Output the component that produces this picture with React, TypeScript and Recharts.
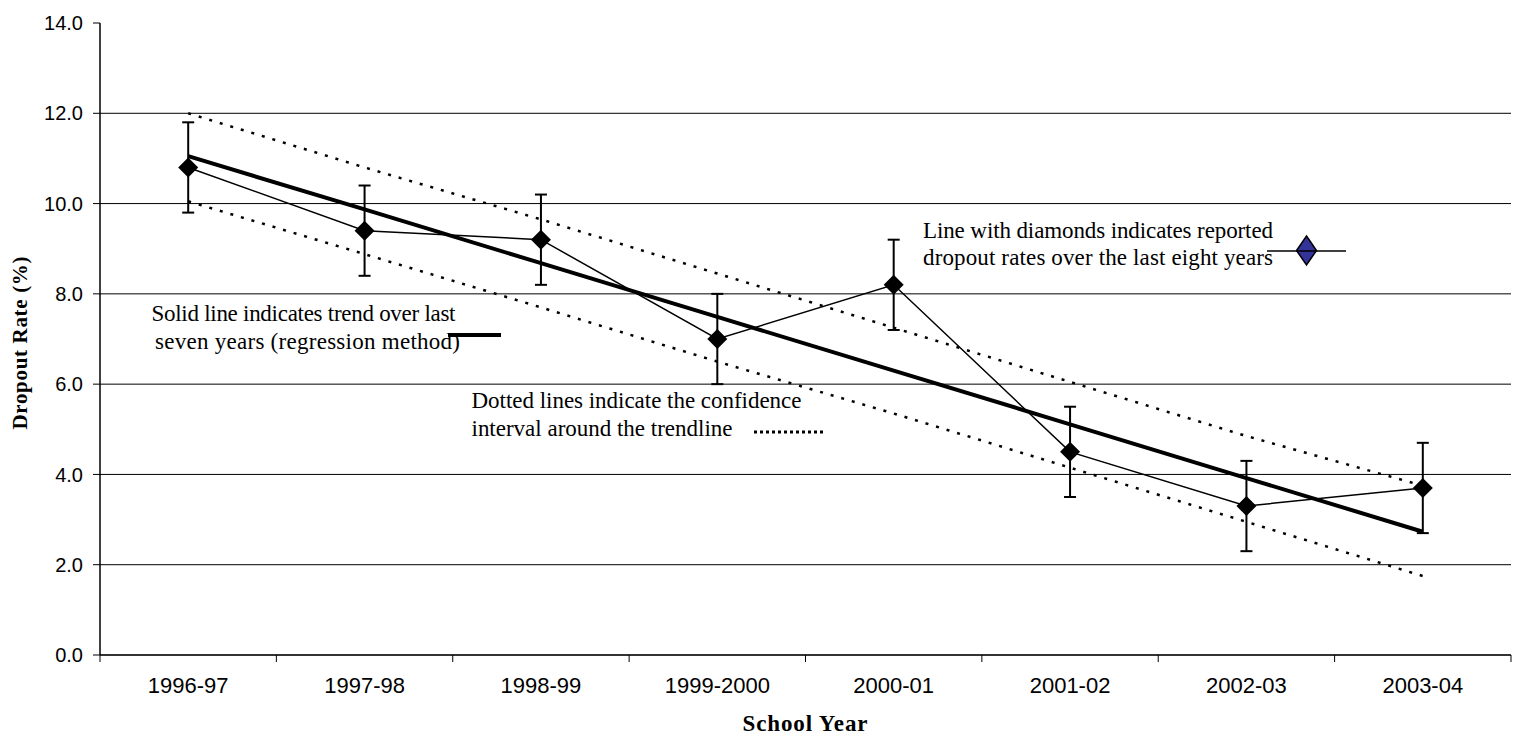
import React from 'react'
import { LineChart, Line, XAxis, YAxis, CartesianGrid, ErrorBar } from 'recharts'

const YEARS = ['1996-97', '1997-98', '1998-99', '1999-2000', '2000-01', '2001-02', '2002-03', '2003-04']
const REPORTED = [10.8, 9.4, 9.2, 7.0, 8.2, 4.5, 3.3, 3.7]
const ERROR = [1.0, 1.0, 1.0, 1.0, 1.0, 1.0, 1.0, 1.0]
const TREND = [11.05, 9.87, 8.68, 7.49, 6.3, 5.11, 3.92, 2.73]
const UPPER = [12.0, 10.8, 9.65, 8.45, 7.25, 6.05, 4.85, 3.75]
const LOWER = [10.05, 8.88, 7.7, 6.5, 5.35, 4.15, 2.95, 1.75]
const Y_TICKS = [0, 2, 4, 6, 8, 10, 12, 14]
const GRID_VALUES = [2, 4, 6, 8, 10, 12]

const data = YEARS.map((year, i) => ({
  year,
  reported: REPORTED[i],
  err: ERROR[i],
  trend: TREND[i],
  upper: UPPER[i],
  lower: LOWER[i],
}))

const SERIF = '"Liberation Serif", "Times New Roman", serif'
const SANS = '"Liberation Sans", Arial, sans-serif'
// half of one category slot (plot is 1411px wide, 8 categories)
const HALF_SLOT = 88.2

function Diamond(props: any) {
  const { cx, cy } = props
  if (cx == null || cy == null) return null
  return (
    <polygon
      points={`${cx},${cy - 10} ${cx + 10},${cy} ${cx},${cy + 10} ${cx - 10},${cy}`}
      fill="#000"
    />
  )
}

// Excel-style category axis: tick marks sit between the categories
function YearTick(props: any) {
  const { x, y, payload } = props
  const last = payload?.value === YEARS[YEARS.length - 1]
  return (
    <g>
      <line x1={x - HALF_SLOT} y1={y} x2={x - HALF_SLOT} y2={y + 7} stroke="#000" />
      {last && <line x1={x + HALF_SLOT} y1={y} x2={x + HALF_SLOT} y2={y + 7} stroke="#000" />}
      <text x={x} y={y + 38} textAnchor="middle" fontFamily={SANS} fontSize={22} fill="#000">
        {payload.value}
      </text>
    </g>
  )
}

function Note({ x, y, width, children }: { x: number; y: number; width: number; children: string }) {
  return (
    <text
      x={x}
      y={y}
      fontFamily={SERIF}
      fontSize={23}
      fill="#000"
      textLength={width}
      lengthAdjust="spacing"
    >
      {children}
    </text>
  )
}

export default function App() {
  return (
    <div style={{ position: 'absolute', left: 0, top: 0, width: 1516, height: 736, background: '#fff' }}>
      <LineChart
        width={1516}
        height={736}
        data={data}
        margin={{ top: 23, right: 5, bottom: 0, left: 0 }}
      >
        <CartesianGrid vertical={false} stroke="#000" horizontalValues={GRID_VALUES} />
        <XAxis
          dataKey="year"
          height={81}
          padding={{ left: HALF_SLOT, right: HALF_SLOT }}
          axisLine={{ stroke: '#333', strokeWidth: 2 }}
          tickLine={false}
          tickSize={0}
          tickMargin={0}
          interval={0}
          tick={<YearTick />}
        />
        <XAxis
          xAxisId="top"
          dataKey="year"
          orientation="top"
          height={0}
          tick={false}
          tickLine={false}
          axisLine={{ stroke: '#999', strokeWidth: 2 }}
        />
        <YAxis
          domain={[0, 14]}
          ticks={Y_TICKS}
          width={100}
          interval={0}
          tickSize={7}
          tickMargin={10}
          tickFormatter={(v: number) => v.toFixed(1)}
          tick={{ fill: '#000', fontSize: 20, fontFamily: SANS }}
          axisLine={{ stroke: '#000', strokeWidth: 1.5 }}
          tickLine={{ stroke: '#000' }}
        />
        <YAxis
          yAxisId="right"
          orientation="right"
          domain={[0, 14]}
          width={0}
          tick={false}
          tickLine={false}
          axisLine={{ stroke: '#999', strokeWidth: 2 }}
        />

        <Line dataKey="upper" stroke="#000" strokeWidth={2.5} strokeDasharray="3 8" dot={false} isAnimationActive={false} />
        <Line dataKey="lower" stroke="#000" strokeWidth={2.5} strokeDasharray="3 8" dot={false} isAnimationActive={false} />
        <Line dataKey="trend" stroke="#000" strokeWidth={4} dot={false} isAnimationActive={false} />
        <Line
          dataKey="reported"
          stroke="#000"
          strokeWidth={1.5}
          dot={(p: any) => <Diamond key={`d-${p.index}`} {...p} />}
          isAnimationActive={false}
        >
          <ErrorBar dataKey="err" direction="y" width={6} stroke="#000" strokeWidth={2} />
        </Line>

        {/* annotations */}
        <Note x={151.5} y={321} width={304}>Solid line indicates trend over last</Note>
        <Note x={155} y={349} width={305}>seven years (regression method)</Note>
        <line x1={448} y1={335} x2={501} y2={335} stroke="#000" strokeWidth={4} />

        <Note x={471.5} y={408} width={330}>Dotted lines indicate the confidence</Note>
        <Note x={471.5} y={436} width={261}>interval around the trendline</Note>
        <line x1={754} y1={432} x2={823} y2={432} stroke="#000" strokeWidth={3} strokeDasharray="3 3" />

        <Note x={923} y={238} width={350}>Line with diamonds indicates reported</Note>
        <Note x={923} y={265} width={350}>dropout rates over the last eight years</Note>
        <polygon
          points="1306.5,236 1316.5,250.5 1306.5,265 1296.5,250.5"
          fill="#333399"
          stroke="#000"
          strokeWidth={1.5}
        />
        <line x1={1267} y1={251} x2={1346} y2={251} stroke="#000" strokeWidth={1.5} />

        <text
          transform="translate(27, 343) rotate(-90)"
          textAnchor="middle"
          fontFamily={SERIF}
          fontSize={21}
          fontWeight="bold"
          fill="#000"
          textLength={173}
          lengthAdjust="spacing"
        >
          Dropout Rate (%)
        </text>
        <text
          x={805}
          y={731}
          textAnchor="middle"
          fontFamily={SERIF}
          fontSize={23}
          fontWeight="bold"
          fill="#000"
          textLength={125}
          lengthAdjust="spacing"
        >
          School Year
        </text>
      </LineChart>
    </div>
  )
}
